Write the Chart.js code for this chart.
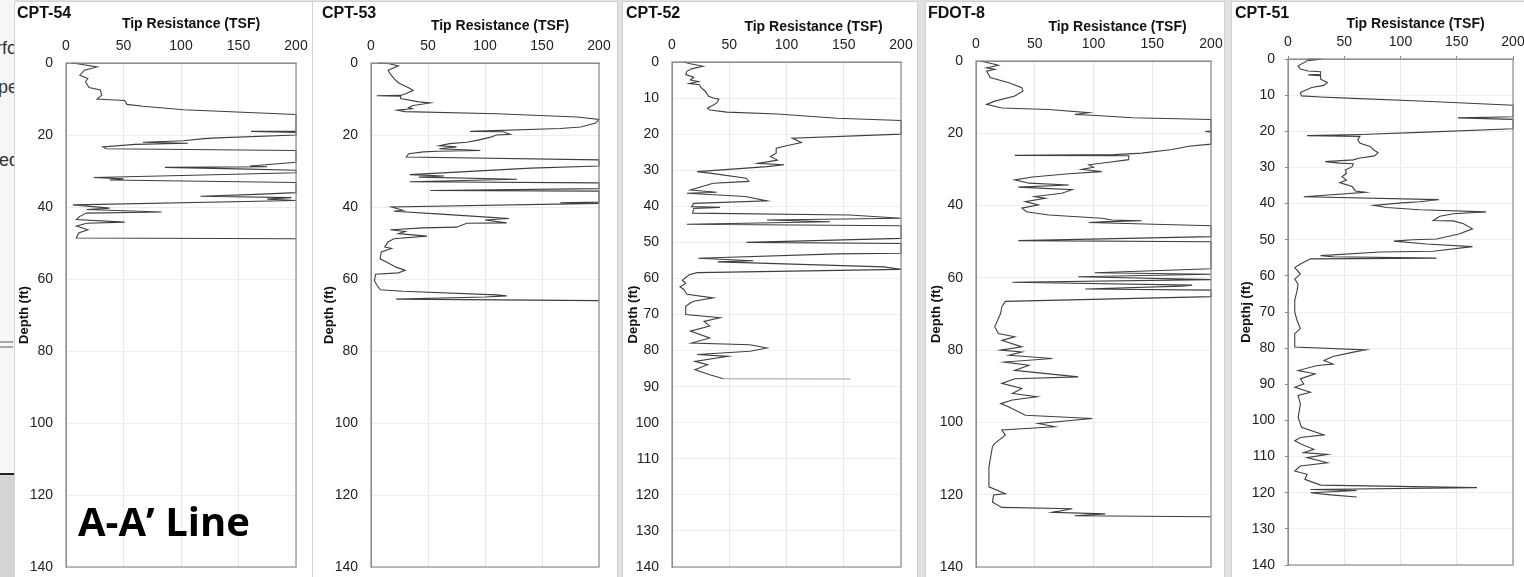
<!DOCTYPE html>
<html>
<head>
<meta charset="utf-8">
<script src="https://cdn.jsdelivr.net/npm/chart.js@4.4.1/dist/chart.umd.min.js"></script>
<style>
  body { margin: 0; width: 1524px; height: 577px; overflow: hidden; background: #e1e1e1; position: relative; font-family: 'Liberation Sans', Arial, sans-serif; }
  .panel { position: absolute; top: 2px; height: 575px; background: #fff; box-shadow: 0 0 0 1px #d2d2d2; }
  canvas { position: absolute; top: 0; }
  #edge { position: absolute; left: 0; top: 0; width: 15px; height: 577px; overflow: hidden; background: #f6f6f6; }
  #edge span { position: absolute; font-size: 18px; color: #333; white-space: nowrap; }
  #edge .bar { position: absolute; left: 0; width: 13px; height: 2px; background: #a8a8a8; }
  #edge .rule { position: absolute; left: 0; top: 473px; width: 15px; height: 2px; background: #222; }
  #edge .shade { position: absolute; left: 0; top: 475px; width: 15px; height: 102px; background: #d4d4d4; }
  #aa { position: absolute; left: 78px; top: 497px; font-family: 'Open Sans', sans-serif; font-weight: 700; font-size: 40px; color: #000; line-height: 1.2; }
</style>
</head>
<body>
<div id="edge">
  <span style="left:-4px; top:38px">rfo</span>
  <span style="left:-2px; top:77px">pe</span>
  <span style="left:-1px; top:150px">ed</span>
  <div class="bar" style="top:341px"></div>
  <div class="bar" style="top:346px"></div>
  <div class="rule"></div>
  <div class="shade"></div>
</div>

<div class="panel" style="left:15px; width:297px"></div>
<div class="panel" style="left:313px; width:304px"></div>
<div class="panel" style="left:623px; width:294px"></div>
<div class="panel" style="left:926px; width:298px"></div>
<div class="panel" style="left:1232px; width:292px"></div>

<canvas id="c54" width="297" height="577" style="left:15px"></canvas>
<canvas id="c53" width="304" height="577" style="left:313px"></canvas>
<canvas id="c52" width="294" height="577" style="left:623px"></canvas>
<canvas id="f8" width="298" height="577" style="left:926px"></canvas>
<canvas id="c51" width="292" height="577" style="left:1232px"></canvas>

<div id="aa">A-A’ Line</div>

<script>
const cpt54Depth = [0, 0.2, 1.1, 2, 3.4, 4.3, 5.2, 6.8, 7.5, 9, 10, 10.2, 10.4, 11.5, 12, 13, 14.3,
  19, 19, 19.3, 20, 20.8, 21, 21.6, 22, 22.3, 22.6, 23.3, 23.8, 24.3, 27.6, 28.6, 28.8, 29, 29.4, 29.8,
  30.5, 31.2, 31.8, 32.2, 32.5, 33.2, 36, 36.5, 37, 37.4, 37.8, 38.2, 39.4, 40.3, 40.7, 41.4, 41.7,
  42.6, 43.5, 44.2, 44.5, 45.3, 46.3, 47.2, 48.6, 48.8];
const cpt54Tip = [5, 10, 27, 16, 12, 19, 17, 20, 30, 31, 27, 38, 51, 53, 67, 102, 200,
  200, 161, 200, 200, 131, 120, 102, 67, 106, 60, 32, 35, 200, 200, 160, 175, 86, 150, 200,
  200, 110, 24, 50, 38, 200, 200, 165, 117, 196, 175, 200, 6, 38, 18, 83, 18,
  12, 9, 51, 18, 9, 19, 11, 9, 200];

const cpt53Depth = [0, 0.2, 0.8, 2, 3.1, 4.6, 5.7, 6.9, 7.6, 8.5, 9, 9.1, 9.2, 9.9, 10.8, 11.1, 11.8,
  12.4, 12.7, 13.1, 13.5, 14.1, 15, 15.7, 16.7, 17.8, 18.2, 19, 19.1, 19.8, 20, 20.6, 21.5, 22, 22.4,
  23, 23.3, 23.8, 24.3, 24.5, 24.7, 25.2, 26.1, 26.9, 28.6, 29.2, 31, 31.4, 31.7, 32.3, 33, 33.3,
  34.9, 35.4, 35.6, 38.6, 38.8, 39, 40, 40.9, 41.2, 41.9, 42.8, 43.2, 43.6, 44.4, 44.5, 45.6, 45.8,
  46.3, 46.8, 47.4, 48.1, 48.8, 49.7, 51.1, 51.5, 52.5, 54.4, 55.7, 56.7, 57.6, 58.3, 58.7, 60.4,
  61.6, 63, 63.4, 64.4, 64.7, 65, 65.6, 66];
const cpt53Tip = [6, 16, 24, 15, 17, 21, 25, 33, 37, 31, 26, 5, 26, 26, 42, 52, 37,
  33, 36, 23, 30, 110, 181, 200, 197, 184, 166, 87, 116, 122, 110, 105, 93, 84, 69,
  60, 75, 60, 96, 58, 46, 33, 31, 200, 200, 140, 34, 64, 42, 128, 34, 200,
  200, 52, 200, 200, 166, 200, 18, 28, 20, 58, 102, 121, 100, 119, 84, 75, 46,
  17, 30, 24, 49, 20, 15, 12, 18, 9, 8, 16, 22, 30, 24, 4, 3,
  5, 8, 28, 110, 119, 100, 22, 200];

const cpt52Depth = [0, 0.5, 1.2, 1.9, 2.6, 3.5, 4.2, 5, 5.4, 6, 6.3, 7, 8.1, 9.5, 10, 10.3, 11.4,
  12.8, 13.3, 13.9, 14.4, 15.6, 16.2, 20, 21.1, 22.3, 23, 23.9, 25.3, 26.2, 27.2, 28.1, 28.5, 29,
  30.4, 30.8, 32.2, 33.1, 33.6, 35.5, 36.1, 36.4, 37.3, 38.5, 39.2, 40.1, 40.3, 40.6, 41.9, 42.4,
  43.3, 43.8, 44.3, 45, 45.4, 48.9, 50, 50.3, 53, 53.2, 54.4, 55.1, 55.4, 56.8, 57.5, 58.4, 59,
  60.5, 61.4, 62.3, 63, 64.4, 65.4, 66.3, 66.8, 67.7, 70, 70.9, 71.9, 73.2, 74.6, 76.5, 77.9, 78.4,
  79.3, 80.2, 81.1, 81.6, 83, 83.9, 85.3, 86.7, 87.8, 87.9];
const cpt52Tip = [10, 16, 27, 17, 13, 12, 19, 16, 23, 15, 24, 25, 29, 32, 36, 41, 39,
  31, 33, 48, 92, 144, 200, 200, 105, 113, 103, 91, 91, 86, 92, 75, 98, 83,
  22, 33, 65, 67, 36, 16, 39, 13, 64, 83, 19, 17, 42, 19, 18, 155,
  200, 83, 138, 13, 200, 200, 65, 200, 200, 144, 23, 71, 40, 185, 200, 22, 15,
  9, 12, 7, 10, 13, 36, 19, 16, 12, 12, 42, 28, 33, 16, 33, 17, 68,
  83, 68, 22, 49, 20, 31, 20, 33, 45, 156];

const fdot8Depth = [0, 1.2, 1.9, 2.3, 2.8, 4.6, 6, 7.4, 8.3, 9.7, 11.1, 12, 13, 13.4, 14.3, 14.8, 15,
  15.7, 16.2, 19.4, 19.5, 19.6, 23, 23.6, 24.5, 25.5, 25.9, 26.1, 26.2, 27.3, 28, 28.7, 29.4, 30,
  30.6, 31.2, 32.1, 32.9, 33.8, 34.3, 34.9, 35.6, 36.6, 37.5, 38, 38.9, 39.8, 40.7, 41.7, 42.6, 43.5,
  44, 44.2, 44.5, 44.7, 45.6, 48.6, 49.7, 50, 57.5, 58.6, 59, 59.7, 60.5, 61.2, 62, 62.3, 63.1, 63.4,
  65.2, 66.5, 68, 69.8, 73.5, 75.4, 76.3, 77.3, 79.1, 80, 80.5, 81.4, 82.3, 83.3, 84.2, 85.6, 87.4,
  87.9, 89.2, 90.6, 92, 92.9, 93.8, 94.8, 95.7, 98, 98.9, 100.3, 101.2, 102.1, 103.5, 105.8, 106.7,
  112.3, 117.8, 119.7, 120.1, 122.1, 123.5, 123.9, 124.9, 125.3, 125.8, 126.1];
const fdot8Tip = [4, 19, 9, 16, 9, 12, 28, 39, 40, 33, 16, 9, 22, 62, 96, 84, 99,
  133, 200, 200, 195, 200, 200, 181, 167, 141, 118, 33, 130, 130, 113, 96, 100, 90,
  107, 79, 48, 33, 45, 79, 36, 82, 73, 50, 59, 42, 53, 39, 43, 62, 107,
  116, 141, 107, 96, 200, 200, 36, 200, 200, 101, 200, 87, 200, 31, 184, 175, 93, 200,
  200, 25, 22, 21, 16, 19, 33, 22, 39, 21, 39, 28, 65, 24, 45, 33, 87,
  33, 22, 39, 31, 52, 31, 21, 28, 42, 99, 53, 67, 22, 25, 16, 14,
  11, 11, 25, 15, 14, 22, 82, 65, 110, 84, 200];

const cpt51Depth = [0, 0.05, 0.5, 1.9, 2.8, 3.3, 3.5, 4.2, 4.4, 4.6, 5.6, 6.5, 7.3, 7.9, 9.3, 10.2,
  10.5, 10.9, 11.6, 12.8, 16, 16.3, 16.7, 19.3, 20.3, 20.9, 21.2, 21.4, 22.3, 23.3, 24.2, 25.1, 25.9,
  26.8, 27.4, 27.9, 28.4, 28.8, 29, 29.8, 30.7, 31.6, 32.6, 33.5, 34.2, 35.3, 36.5, 36.9, 38.1, 38.9,
  39.5, 39.8, 40.5, 41.1, 41.7, 42.3, 42.8, 43.5, 44.7, 44.8, 45.6, 47, 48.4, 49.8, 50, 50.4, 51.2,
  51.9, 53.2, 53.4, 54.4, 54.7, 55.1, 55.3, 56.7, 57.7, 59.5, 60.9, 62.3, 64.2, 66.7, 70, 72.3, 74.6,
  76, 79.7, 80.5, 81.1, 82.3, 83.4, 84.4, 84.8, 86.2, 87.1, 88.5, 89.9, 90.8, 92.2, 93.1, 95.5, 99.2,
  101.9, 104, 104.7, 105.6, 106.6, 108, 108.9, 109.4, 110.3, 111.7, 112.6, 114, 114.9, 116.3, 117.9,
  118.6, 119.1, 119.4, 120, 120.6, 121.2];
const cpt51Tip = [18, 30, 17, 9, 11, 18, 29, 29, 18, 29, 29, 35, 32, 21, 11, 12,
  29, 58, 117, 200, 200, 151, 200, 200, 117, 64, 17, 64, 62, 64, 73, 76, 80,
  77, 64, 58, 33, 46, 58, 57, 51, 52, 48, 52, 46, 57, 60, 69, 14, 134,
  117, 101, 76, 88, 117, 176, 147, 135, 129, 147, 156, 164, 152, 132, 111, 94, 123,
  164, 129, 82, 29, 40, 132, 20, 11, 6, 11, 6, 9, 8, 6, 6, 8, 11,
  6, 6, 69, 58, 40, 32, 40, 26, 9, 24, 11, 14, 6, 20, 9, 11, 9,
  12, 32, 11, 6, 12, 23, 14, 35, 17, 35, 11, 6, 17, 15, 29,
  168, 20, 61, 20, 38, 61];

const tipTicks = { min: 0, max: 200, step: 50 };
const depthTicks = { min: 0, max: 140 };

Chart.defaults.font.family = "'Liberation Sans', Arial, sans-serif";

// x axis title sits a little right of centre on every log, so it is drawn by hand
const xTitlePlugin = {
  id: 'xTitle',
  afterDraw(chart, args, opts) {
    const { ctx, chartArea: a } = chart;
    ctx.save();
    ctx.font = 'bold 14px ' + Chart.defaults.font.family;
    ctx.fillStyle = '#111';
    ctx.textAlign = 'center';
    ctx.textBaseline = 'middle';
    ctx.fillText(opts.text, (a.left + a.right) / 2 + opts.dx, opts.y);
    ctx.restore();
  }
};

// box around the plot area
const framePlugin = {
  id: 'frame',
  afterDatasetsDraw(chart, args, opts) {
    const { ctx, chartArea: a } = chart;
    ctx.save();
    ctx.strokeStyle = opts.color;
    ctx.lineWidth = 1.2;
    ctx.strokeRect(a.left, a.top, a.right - a.left, a.bottom - a.top);
    ctx.restore();
  }
};

const panels = [
  { id: 'c54', title: 'CPT-54', depth: cpt54Depth, tip: cpt54Tip, left: 15, width: 297, padL: 2,
    plot: { l: 66, r: 296, t: 63, b: 567 }, step: 20, yTitle: 'Depth (ft)', yPad: 0, dx: 10, ty: 24 },
  { id: 'c53', title: 'CPT-53', depth: cpt53Depth, tip: cpt53Tip, left: 313, width: 304, padL: 9,
    plot: { l: 371, r: 599, t: 63, b: 567 }, step: 20, yTitle: 'Depth (ft)', yPad: 0, dx: 15, ty: 26 },
  { id: 'c52', title: 'CPT-52', depth: cpt52Depth, tip: cpt52Tip, left: 623, width: 294, padL: 3,
    plot: { l: 672, r: 901, t: 62, b: 567 }, step: 10, yTitle: 'Depth (ft)', yPad: 0, dx: 27, ty: 27, fadeLast: true },
  { id: 'f8', title: 'FDOT-8', depth: fdot8Depth, tip: fdot8Tip, left: 926, width: 298, padL: 2,
    plot: { l: 976, r: 1211, t: 61, b: 567 }, step: 20, yTitle: 'Depth (ft)', yPad: 1, dx: 24, ty: 27 },
  { id: 'c51', title: 'CPT-51', depth: cpt51Depth, tip: cpt51Tip, left: 1232, width: 292, padL: 3,
    plot: { l: 1288, r: 1513, t: 59, b: 565 }, step: 10, yTitle: 'Depthj (ft)', yPad: 4, dx: 15, ty: 24, tickMarks: true }
];

function buildLog(p) {
  const titleH = 16 * 1.2 + 4;
  const points = p.depth.map((d, i) => ({ x: p.tip[i], y: d }));
  const last = points.length - 1;
  return new Chart(document.getElementById(p.id), {
    type: 'scatter',
    data: {
      datasets: [{
        data: points,
        showLine: true,
        borderColor: '#3f3f3f',
        borderWidth: 1.1,
        pointRadius: 0,
        tension: 0,
        clip: 2,
        segment: {
          borderColor: (c) => (p.fadeLast && c.p1DataIndex === last ? '#a0a0a0' : undefined),
        },
      }],
    },
    options: {
      responsive: false,
      animation: false,
      devicePixelRatio: 1,
      events: [],
      layout: {
        padding: { left: p.padL, right: p.left + p.width - p.plot.r, top: 0, bottom: 577 - p.plot.b },
      },
      plugins: {
        legend: { display: false },
        tooltip: { enabled: false },
        title: {
          display: true, text: p.title, align: 'start', color: '#111',
          font: { size: 16, weight: 'bold' }, padding: { top: 4, bottom: 0 },
        },
        xTitle: { text: 'Tip Resistance (TSF)', dx: p.dx, y: p.ty },
        frame: { color: '#8e8e8e' },
      },
      scales: {
        x: {
          type: 'linear', position: 'top', min: tipTicks.min, max: tipTicks.max,
          ticks: { stepSize: tipTicks.step, padding: 5, color: '#222', font: { size: 14 } },
          grid: { color: '#e4e9ef', tickLength: 3, tickColor: p.tickMarks ? '#888' : 'rgba(0,0,0,0)' },
          border: { color: '#8e8e8e' },
          afterFit: (s) => { s.height = p.plot.t - titleH; s.paddingLeft = 0; s.paddingRight = 0; },
        },
        y: {
          type: 'linear', reverse: true, min: depthTicks.min, max: depthTicks.max,
          ticks: { stepSize: p.step, padding: 10, color: '#222', font: { size: 14 } },
          grid: { color: '#eceff2', tickLength: 3, tickColor: p.tickMarks ? '#888' : 'rgba(0,0,0,0)' },
          border: { color: '#8e8e8e' },
          title: {
            display: true, text: p.yTitle, color: '#111',
            font: { size: 13, weight: 'bold' }, padding: { top: p.yPad, bottom: 0 },
          },
          afterFit: (s) => { s.width = p.plot.l - p.left - p.padL; s.paddingTop = 0; s.paddingBottom = 0; },
        },
      },
    },
    plugins: [xTitlePlugin, framePlugin],
  });
}

const charts = panels.map(buildLog);
</script>
</body>
</html>
